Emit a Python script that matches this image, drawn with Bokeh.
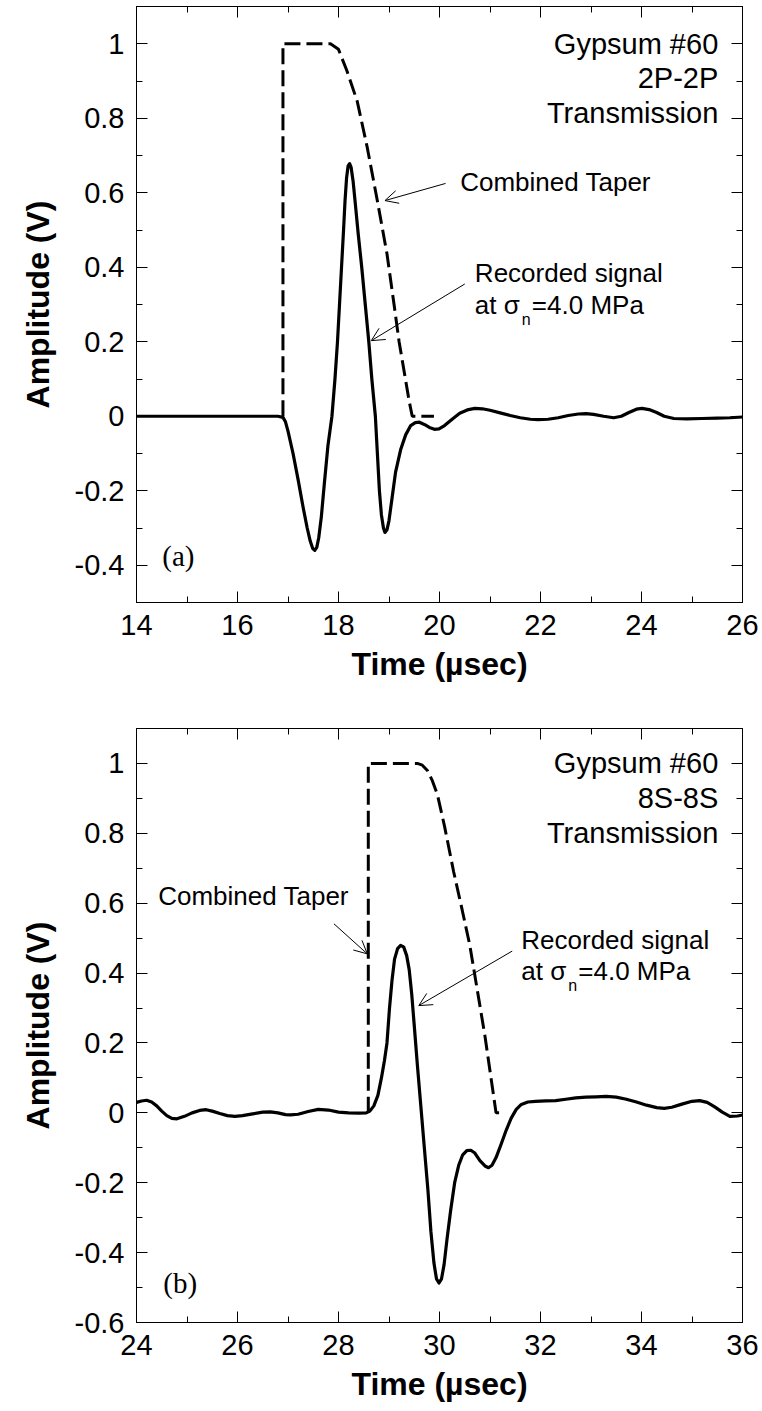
from bokeh.plotting import figure
from bokeh.layouts import column
from bokeh.models import LinearAxis, Range1d, Arrow, OpenHead, Label, FixedTicker
from bokeh.embed import file_html
from bokeh.resources import INLINE

# ---------------- data: panel (a) 2P-2P ----------------
a_sig_t = [14.0, 15.0, 16.0, 16.8, 16.9, 16.95, 17.0, 17.1, 17.2, 17.3, 17.38, 17.44, 17.49, 17.53,
           17.57, 17.61, 17.66, 17.72, 17.79, 17.87, 17.93, 17.98, 18.02, 18.06, 18.1, 18.13, 18.16,
           18.19, 18.22, 18.25, 18.29, 18.33, 18.39, 18.46, 18.53, 18.6, 18.66, 18.73, 18.77, 18.81,
           18.85, 18.89, 18.92, 18.96, 19.0, 19.06, 19.13, 19.23, 19.33, 19.43, 19.52, 19.6, 19.7,
           19.8, 19.9, 19.99, 20.1, 20.25, 20.4, 20.55, 20.7, 20.85, 21.0, 21.2, 21.4, 21.6, 21.8,
           21.95, 22.15, 22.35, 22.55, 22.75, 22.9, 23.05, 23.25, 23.45, 23.6, 23.75, 23.9, 24.01,
           24.15, 24.3, 24.45, 24.64, 24.9, 25.2, 25.5, 25.75, 26.0]
a_sig_v = [0.0, 0.0, 0.0, 0.0, -0.003, -0.015, -0.04, -0.10, -0.17, -0.245, -0.30, -0.335, -0.355, -0.36,
           -0.352, -0.325, -0.27, -0.18, -0.08, 0.0, 0.1, 0.2, 0.3, 0.4, 0.5, 0.58, 0.64,
           0.672, 0.678, 0.668, 0.63, 0.575, 0.49, 0.40, 0.3, 0.2, 0.1, 0.0, -0.1, -0.2,
           -0.265, -0.3, -0.312, -0.305, -0.28, -0.22, -0.15, -0.09, -0.05, -0.025, -0.017, -0.016, -0.022,
           -0.03, -0.035, -0.034, -0.025, -0.008, 0.008, 0.017, 0.021, 0.02, 0.016, 0.009, 0.002, -0.004, -0.008,
           -0.009, -0.008, -0.004, 0.002, 0.006, 0.007, 0.005, 0.0, -0.004, 0.0, 0.01, 0.019, 0.021,
           0.018, 0.01, 0.0, -0.006, -0.007, -0.006, -0.005, -0.004, -0.002]
a_tap_t = [16.9, 16.9, 17.84, 18.0, 18.17, 18.37, 18.57, 18.77, 18.96, 19.1, 19.2, 19.3, 19.4, 19.46, 19.89]
a_tap_v = [0.0, 1.0, 1.0, 0.985, 0.926, 0.846, 0.721, 0.578, 0.436, 0.3, 0.2, 0.12, 0.04, 0.0, 0.0]

# ---------------- data: panel (b) 8S-8S ----------------
b_sig_t = [24.0, 24.1, 24.2, 24.3, 24.4, 24.5, 24.6, 24.7, 24.8, 24.95, 25.1, 25.25, 25.38, 25.5,
           25.65, 25.8, 25.95, 26.1, 26.3, 26.5, 26.65, 26.8, 26.95, 27.05, 27.2, 27.4, 27.6, 27.8,
           28.0, 28.2, 28.4, 28.55, 28.62, 28.7, 28.78, 28.85, 28.91, 28.96, 29.01, 29.06, 29.11,
           29.17, 29.23, 29.29, 29.35, 29.4, 29.45, 29.5, 29.56, 29.63, 29.7, 29.77, 29.83, 29.89,
           29.94, 29.99, 30.04, 30.09, 30.15, 30.22, 30.3, 30.38, 30.46, 30.54, 30.62, 30.7, 30.8,
           30.9, 30.97, 31.04, 31.12, 31.22, 31.32, 31.42, 31.52, 31.62, 31.75, 31.9, 32.1, 32.3,
           32.5, 32.7, 32.9, 33.1, 33.3, 33.5, 33.7, 33.9, 34.1, 34.3, 34.45, 34.6, 34.8, 35.0,
           35.15, 35.3, 35.45, 35.6, 35.75, 35.9, 36.0]
b_sig_v = [0.03, 0.034, 0.036, 0.031, 0.02, 0.005, -0.008, -0.016, -0.017, -0.01, 0.0, 0.007, 0.009, 0.005,
           -0.002, -0.008, -0.01, -0.008, -0.003, 0.002, 0.003, 0.0, -0.005, -0.006, -0.004, 0.004, 0.01, 0.008,
           0.002, 0.0, -0.001, 0.0, 0.005, 0.02, 0.05, 0.1, 0.15, 0.2, 0.3, 0.38, 0.44,
           0.47, 0.479, 0.475, 0.45, 0.41, 0.34, 0.25, 0.14, 0.02, -0.1, -0.22, -0.34, -0.43,
           -0.475, -0.487, -0.475, -0.435, -0.36, -0.28, -0.2, -0.15, -0.12, -0.108, -0.107, -0.115, -0.137,
           -0.152, -0.157, -0.15, -0.128, -0.09, -0.05, -0.015, 0.01, 0.024, 0.031, 0.033, 0.034, 0.035,
           0.039, 0.043, 0.045, 0.046, 0.047, 0.045, 0.039, 0.031, 0.022, 0.015, 0.013, 0.016, 0.025, 0.033,
           0.035, 0.03, 0.017, 0.002, -0.01, -0.009, -0.006]
b_tap_t = [28.59, 28.59, 29.56, 29.66, 29.76, 29.86, 29.96, 30.1, 30.28, 30.45, 30.6, 30.75, 30.9, 31.0, 31.07, 31.12, 31.26]
b_tap_v = [0.0, 1.0, 1.0, 0.995, 0.98, 0.95, 0.91, 0.82, 0.69, 0.58, 0.48, 0.35, 0.22, 0.12, 0.05, 0.0, 0.0]

# ---------------- ticks ----------------
a_xticks = [14, 16, 18, 20, 22, 24, 26]
a_xlabels = ["14", "16", "18", "20", "22", "24", "26"]
a_xminor = [15, 17, 19, 21, 23, 25]
a_yticks = [-0.4, -0.2, 0, 0.2, 0.4, 0.6, 0.8, 1]
a_ylabels = ["-0.4", "-0.2", "0", "0.2", "0.4", "0.6", "0.8", "1"]
a_yminor = [-0.5, -0.3, -0.1, 0.1, 0.3, 0.5, 0.7, 0.9, 1.1]

b_xticks = [24, 26, 28, 30, 32, 34, 36]
b_xlabels = ["24", "26", "28", "30", "32", "34", "36"]
b_xminor = [25, 27, 29, 31, 33, 35]
b_yticks = [-0.6, -0.4, -0.2, 0, 0.2, 0.4, 0.6, 0.8, 1]
b_ylabels = ["-0.6", "-0.4", "-0.2", "0", "0.2", "0.4", "0.6", "0.8", "1"]
b_yminor = [-0.5, -0.3, -0.1, 0.1, 0.3, 0.5, 0.7, 0.9, 1.1]

a_corner = ["Gypsum #60", "2P-2P", "Transmission"]
b_corner = ["Gypsum #60", "8S-8S", "Transmission"]

SANS = "Liberation Sans"
SERIF = "Liberation Serif"


def style_axis(ax, labels_on=True):
    ax.major_tick_in = 11
    ax.major_tick_out = 0
    ax.minor_tick_in = 6
    ax.minor_tick_out = 0
    ax.axis_line_color = "black"
    ax.axis_line_width = 1
    ax.major_tick_line_color = "black"
    ax.minor_tick_line_color = "black"
    ax.major_label_text_font = SANS
    ax.major_label_text_color = "black"
    if labels_on:
        ax.major_label_text_font_size = "29px"
        ax.major_label_standoff = 12
    else:
        ax.major_label_text_font_size = "1px"
        ax.major_label_standoff = 0


def make_panel(xr, yr, xt, xl, xm, yt, yl, ym, top, bottom, fh):
    p = figure(x_range=Range1d(*xr), y_range=Range1d(*yr),
               frame_width=606, frame_height=fh,
               min_border_left=136, min_border_right=20,
               min_border_top=top, min_border_bottom=bottom,
               output_backend="svg", toolbar_location=None,
               x_axis_label="Time (µsec)", y_axis_label="Amplitude (V)")
    p.grid.visible = False
    p.outline_line_color = "black"
    p.background_fill_color = "white"
    p.border_fill_color = "white"
    p.xaxis[0].ticker = FixedTicker(ticks=xt, minor_ticks=xm)
    p.yaxis[0].ticker = FixedTicker(ticks=yt, minor_ticks=ym)
    p.xaxis[0].major_label_overrides = {t: s for t, s in zip(xt, xl)}
    p.yaxis[0].major_label_overrides = {t: s for t, s in zip(yt, yl)}
    for ax in (p.xaxis[0], p.yaxis[0]):
        style_axis(ax)
        ax.axis_label_text_font = SANS
        ax.axis_label_text_font_style = "bold"
        ax.axis_label_text_font_size = "32px"
        ax.axis_label_text_color = "black"
    p.xaxis[0].axis_label_standoff = 8
    p.yaxis[0].axis_label_standoff = 16
    top_ax = LinearAxis(ticker=FixedTicker(ticks=xt, minor_ticks=xm),
                        major_label_overrides={t: "" for t in xt})
    right_ax = LinearAxis(ticker=FixedTicker(ticks=yt, minor_ticks=ym),
                          major_label_overrides={t: "" for t in yt})
    style_axis(top_ax, False)
    style_axis(right_ax, False)
    p.add_layout(top_ax, "above")
    p.add_layout(right_ax, "right")
    return p


def add_text(p, x, y, text, size="26px", align="left", font=SANS, x_offset=0):
    p.add_layout(Label(x=x, y=y, text=text, text_font=font, text_font_size=size,
                       text_align=align, text_baseline="middle", text_color="black",
                       x_offset=x_offset))


def add_arrow(p, xs, ys, xe, ye):
    p.add_layout(Arrow(end=OpenHead(size=13, line_width=1, line_color="black"),
                       x_start=xs, y_start=ys, x_end=xe, y_end=ye,
                       line_width=1, line_color="black"))


# ---------------- panel (a) ----------------
p1 = make_panel((14, 26), (-0.5, 1.1), a_xticks, a_xlabels, a_xminor,
                a_yticks, a_ylabels, a_yminor, 6, 90, 596)
p1.line(a_tap_t, a_tap_v, line_color="black", line_width=3, line_dash="16 6")
p1.line(a_sig_t, a_sig_v, line_color="black", line_width=3.2, line_join="round")
for i, s in enumerate(a_corner):
    add_text(p1, 25.52, 1.0 - 0.093 * i, s, size="29px", align="right")
add_text(p1, 20.41, 0.629, "Combined Taper")
add_arrow(p1, 20.12, 0.625, 18.92, 0.579)
add_text(p1, 20.7, 0.384, "Recorded signal")
add_text(p1, 20.7, 0.298, "at σ")
add_text(p1, 20.7, 0.260, "n", size="16px", x_offset=47)
add_text(p1, 20.7, 0.298, "=4.0 MPa", x_offset=57)
add_arrow(p1, 20.5, 0.355, 18.65, 0.203)
add_text(p1, 14.51, -0.376, "(a)", size="29px", font=SERIF)

# ---------------- panel (b) ----------------
p2 = make_panel((24, 36), (-0.6, 1.1), b_xticks, b_xlabels, b_xminor,
                b_yticks, b_ylabels, b_yminor, 36, 89, 594)
p2.line(b_tap_t, b_tap_v, line_color="black", line_width=3, line_dash="16 6")
p2.line(b_sig_t, b_sig_v, line_color="black", line_width=3.2, line_join="round")
for i, s in enumerate(b_corner):
    add_text(p2, 35.52, 1.0 - 0.1 * i, s, size="29px", align="right")
add_text(p2, 24.43, 0.622, "Combined Taper")
add_arrow(p2, 27.91, 0.541, 28.57, 0.455)
add_text(p2, 31.62, 0.496, "Recorded signal")
add_text(p2, 31.62, 0.405, "at σ")
add_text(p2, 31.62, 0.365, "n", size="16px", x_offset=47)
add_text(p2, 31.62, 0.405, "=4.0 MPa", x_offset=57)
add_arrow(p2, 31.44, 0.463, 29.59, 0.307)
add_text(p2, 24.53, -0.486, "(b)", size="29px", font=SERIF)

layout = column(p1, p2, spacing=0)
open("out.html", "w").write(file_html(layout, INLINE))
